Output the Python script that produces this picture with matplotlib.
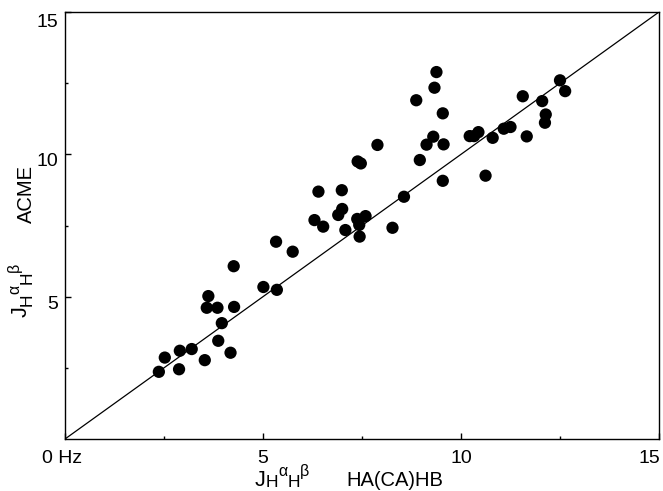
import numpy as np
import matplotlib
matplotlib.use("Agg")
import matplotlib.pyplot as plt
from matplotlib.transforms import ScaledTranslation

plt.rcParams["font.family"] = ["Liberation Sans", "DejaVu Sans"]

# J(HaHb) values, HA(CA)HB (x) vs ACME (y), Hz
haca_hb = [5.33, 5.75, 4.26, 5.01, 5.35, 3.62, 3.58, 3.85, 4.27, 3.96, 3.87, 4.18,
           3.53, 3.20, 2.90, 2.52, 2.37, 2.88, 6.40, 6.30, 6.52,
           9.38, 9.33, 8.87, 9.54, 7.89, 7.39, 7.47, 6.99, 7.00, 6.90, 7.38, 7.59,
           7.43, 7.08, 7.44, 8.27, 8.56, 9.54, 8.96, 9.13, 9.30, 9.56, 10.22, 10.33,
           10.44, 10.80, 10.62, 11.08, 11.25, 11.56, 11.66, 12.05, 12.14, 12.12,
           12.50, 12.63]
acme = [6.93, 6.58, 6.07, 5.34, 5.24, 5.02, 4.61, 4.61, 4.64, 4.07, 3.45, 3.03,
        2.77, 3.16, 3.10, 2.86, 2.36, 2.45, 8.69, 7.69, 7.46,
        12.89, 12.34, 11.90, 11.44, 10.33, 9.75, 9.68, 8.74, 8.08, 7.87, 7.73, 7.83,
        7.52, 7.34, 7.11, 7.42, 8.51, 9.07, 9.80, 10.34, 10.62, 10.35, 10.64, 10.64,
        10.78, 10.58, 9.25, 10.90, 10.96, 12.04, 10.63, 11.87, 11.40, 11.11,
        12.60, 12.22]
diag = [0, 15]
x_ticks = [0, 5, 10, 15]
x_tick_labels = ["0 Hz", "5", "10", "15"]
y_ticks = [5, 10, 15]
y_tick_labels = ["5", "10", "15"]
minor_ticks = [2.5, 7.5, 12.5]

W, H = 663, 491
fig = plt.figure(figsize=(W / 100, H / 100), dpi=100)
ax = fig.add_axes([65 / W, (H - 439) / H, 594 / W, 427 / H])

ax.plot(diag, diag, color="black", lw=0.9, zorder=2)
ax.scatter(haca_hb, acme, s=78, color="black", edgecolor="none", zorder=3)

ax.set_xlim(0, 15)
ax.set_ylim(0, 15)
ax.set_xticks(x_ticks)
ax.set_yticks(y_ticks)
ax.set_xticklabels([])
ax.set_yticklabels([])
ax.set_xticks(minor_ticks, minor=True)
ax.set_yticks(minor_ticks, minor=True)
ax.tick_params(which="major", direction="in", length=4.3, width=1)
ax.tick_params(which="minor", direction="in", length=2.2, width=1)
for s in ax.spines.values():
    s.set_linewidth(1.0)

# tick labels placed by hand (pixel offsets)
px = lambda dx, dy: ScaledTranslation(dx / 100, dy / 100, fig.dpi_scale_trans)
x_shift = {"0 Hz": (-2.5, "center"), "15": (1, "right")}
for v, lab in zip(x_ticks, x_tick_labels):
    dx, ha = x_shift.get(lab, (0, "center"))
    ax.text(v, 0, lab, fontsize=14, ha=ha, va="baseline",
            transform=ax.get_xaxis_transform() + px(dx, -24), clip_on=False)
y_drop = {"5": -12, "10": -12, "15": -15}
for v, lab in zip(y_ticks, y_tick_labels):
    ax.text(0, v, lab, fontsize=14, ha="right", va="baseline",
            transform=ax.get_yaxis_transform() + px(-7, y_drop[lab]), clip_on=False)

renderer = fig.canvas.get_renderer()


def compose(x0, y0, pieces, vertical=False):
    # place text pieces one after another (pixel coords, origin bottom-left)
    pos = y0 if vertical else x0
    for txt, size, shift in pieces:
        if vertical:
            t = fig.text((x0 - shift) / W, pos / H, txt, fontsize=size, rotation=90,
                         rotation_mode="anchor", ha="left", va="baseline")
            pos += t.get_window_extent(renderer).height
        else:
            t = fig.text(pos / W, (y0 + shift) / H, txt, fontsize=size,
                         ha="left", va="baseline")
            pos += t.get_window_extent(renderer).width


compose(255, 5, [("J", 15.5, 0), ("H", 12.5, -1), ("α", 11.5, 10),
                 ("H", 12.5, -1), ("β", 11.5, 10)])
fig.text(346 / W, 5 / H, "HA(CA)HB", fontsize=14.5, ha="left", va="baseline")

compose(32, H - 317, [("J", 15.5, 5), ("H", 12.5, 0), ("α", 11.5, 13),
                      ("H", 12.5, 0), ("β", 11.5, 13)], vertical=True)
fig.text(32 / W, (H - 223) / H, "ACME", fontsize=14.5, rotation=90,
         rotation_mode="anchor", ha="left", va="baseline")

fig.savefig("out.png", dpi=100, facecolor="white")
